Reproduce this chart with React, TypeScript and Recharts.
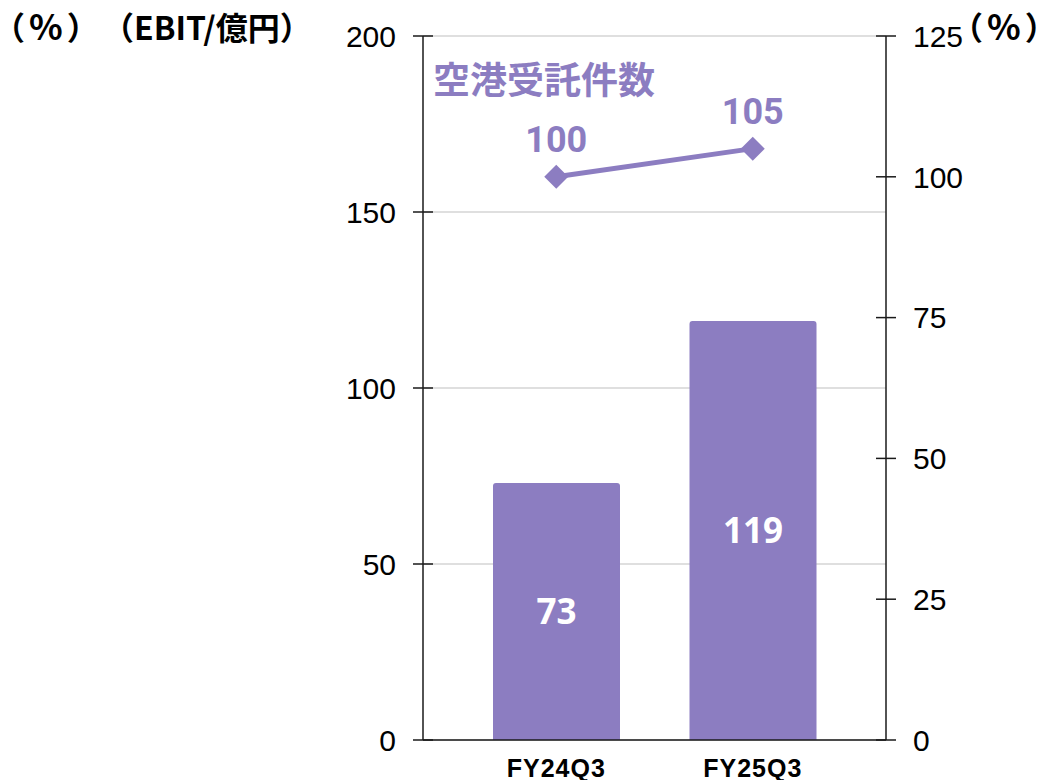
import React from 'react';
import { ComposedChart, Bar, Line, XAxis, YAxis, CartesianGrid, LabelList } from 'recharts';

const categories = ['FY24Q3', 'FY25Q3'];
const ebitValues = [73, 119];
const airportValues = [100, 105];
const leftTicks = [0, 50, 100, 150, 200];
const rightTicks = [0, 25, 50, 75, 100, 125];
const seriesTitle = '空港受託件数';
const unitPctParts = ['（', '%', '）'];
const leftUnitEbit = '（EBIT/億円）';

const data = categories.map((c, i) => ({ category: c, ebit: ebitValues[i], airport: airportValues[i] }));

const PURPLE = '#8C7DC1';
const AXIS = '#1a1a1a';
const TICK_SIZE = 10;
const TICK_MARGIN = 17;
const tickFont = '"Liberation Sans", Arial, sans-serif';
const cjkFont = '"Noto Sans CJK JP", sans-serif';
const cjkStyle: any = { textSpacingTrim: 'trim-start' };

const LeftTick = (props: any) => {
  const { x, y, payload } = props;
  const lx = x + TICK_MARGIN;
  return (
    <g>
      <line x1={lx} x2={lx + TICK_SIZE * 2} y1={y} y2={y} stroke={AXIS} strokeWidth={1.5} />
      <text x={x} y={y} dy="0.36em" textAnchor="end" fontSize={30} fontFamily={tickFont} fill="#000">
        {payload.value}
      </text>
    </g>
  );
};

const RightTick = (props: any) => {
  const { x, y, payload } = props;
  const lx = x - TICK_MARGIN;
  return (
    <g>
      <line x1={lx - TICK_SIZE * 2} x2={lx} y1={y} y2={y} stroke={AXIS} strokeWidth={1.5} />
      <text x={x} y={y} dy="0.36em" textAnchor="start" fontSize={30} fontFamily={tickFont} fill="#000">
        {payload.value}
      </text>
    </g>
  );
};

const Diamond = (props: any) => {
  const { cx, cy } = props;
  if (cx == null || cy == null) return null;
  const r = 12;
  return <path d={`M${cx},${cy - r} L${cx + r},${cy} L${cx},${cy + r} L${cx - r},${cy} Z`} fill={PURPLE} />;
};

const PctUnit = ({ x, y }: { x: number; y: number }) => (
  <text x={x} y={y} fontSize={32} fontWeight={700} fill="#000" fontFamily={cjkFont} style={cjkStyle}>
    <tspan>{unitPctParts[0]}</tspan>
    <tspan dx={4} fontSize={35}>{unitPctParts[1]}</tspan>
    <tspan dx={4}>{unitPctParts[2]}</tspan>
  </text>
);

export default function App() {
  return (
    <div style={{ position: 'absolute', left: 0, top: 0, width: 1047, height: 780 }}>
      <ComposedChart
        width={1047}
        height={780}
        data={data}
        margin={{ top: 36, right: 0, bottom: 0, left: 0 }}
      >
        <CartesianGrid vertical={false} yAxisId="left" stroke="#d4d4d4" strokeWidth={1.5} />
        <XAxis
          dataKey="category"
          padding={{ left: 35, right: 35 }}
          height={40}
          tickLine={false}
          tickSize={0}
          tickMargin={19}
          axisLine={{ stroke: AXIS, strokeWidth: 1.5 }}
          tick={{ fontSize: 25, fontWeight: 700, fill: '#000', fontFamily: tickFont, letterSpacing: 1 }}
        />
        <YAxis
          yAxisId="left"
          orientation="left"
          width={423}
          domain={[0, 200]}
          ticks={leftTicks}
          interval={0}
          tickLine={false}
          tickSize={TICK_SIZE}
          tickMargin={TICK_MARGIN}
          axisLine={{ stroke: AXIS, strokeWidth: 1.5 }}
          tick={<LeftTick />}
        />
        <YAxis
          yAxisId="right"
          orientation="right"
          width={161}
          domain={[0, 125]}
          ticks={rightTicks}
          interval={0}
          tickLine={false}
          tickSize={TICK_SIZE}
          tickMargin={TICK_MARGIN}
          axisLine={{ stroke: AXIS, strokeWidth: 1.5 }}
          tick={<RightTick />}
        />
        <Bar yAxisId="left" dataKey="ebit" fill={PURPLE} barSize={127} radius={[3, 3, 0, 0]} isAnimationActive={false}>
          <LabelList
            dataKey="ebit"
            position="center"
            fill="#fff"
            fontSize={35}
            fontWeight={700}
            fontFamily='"Open Sans", "Noto Sans", sans-serif'
          />
        </Bar>
        <Line
          yAxisId="right"
          dataKey="airport"
          stroke={PURPLE}
          strokeWidth={5}
          dot={<Diamond />}
          activeDot={false}
          isAnimationActive={false}
        >
          <LabelList
            dataKey="airport"
            position="top"
            offset={25}
            fill={PURPLE}
            fontSize={36}
            fontWeight={700}
            fontFamily='Roboto, "Noto Sans", sans-serif'
          />
        </Line>
        <text x={433} y={94} fontSize={37} fontWeight={700} fill={PURPLE} fontFamily={cjkFont} style={cjkStyle}>
          {seriesTitle}
        </text>
        <PctUnit x={9} y={40} />
        <text x={118} y={40} fontSize={32} fontWeight={700} fill="#000" fontFamily={cjkFont} style={cjkStyle}>
          {leftUnitEbit}
        </text>
        <PctUnit x={967} y={40} />
      </ComposedChart>
    </div>
  );
}
